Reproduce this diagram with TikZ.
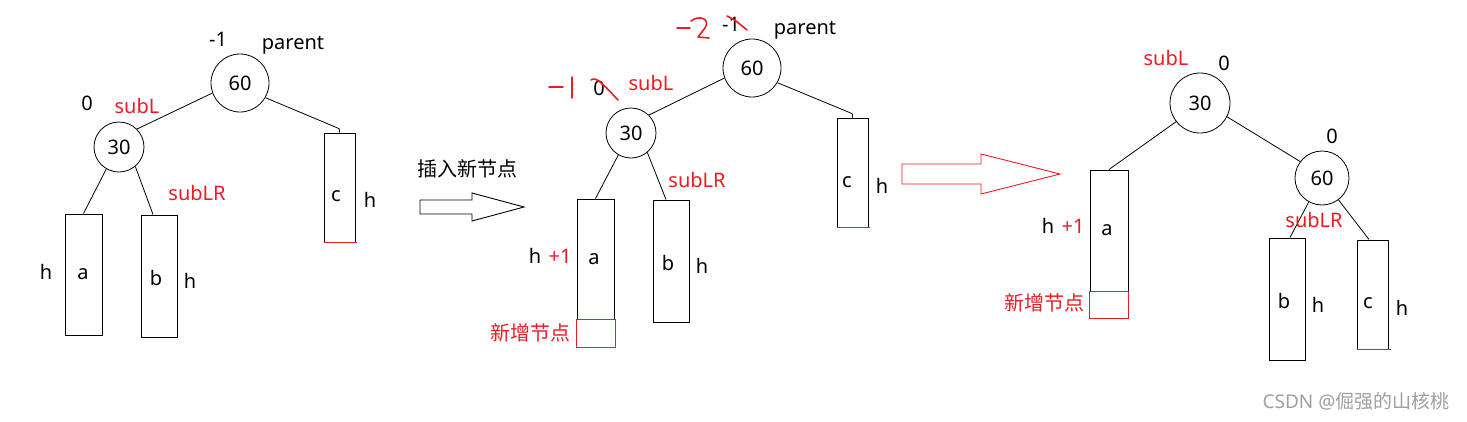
\documentclass[tikz,border=0pt]{standalone}
\usepackage{fontspec}
\setmainfont{Noto Sans}
\newfontfamily\cjk{Noto Sans CJK SC}
\definecolor{pred}{RGB}{237,28,36}
\definecolor{wm}{RGB}{160,160,160}
\begin{document}
\begin{tikzpicture}[x=1pt,y=-1pt,
  every node/.style={inner sep=0pt},
  lbl/.style={anchor=base, font=\fontsize{20}{23}\selectfont},
  rlbl/.style={lbl, text=pred},
  cn/.style={anchor=base, font=\fontsize{20}{23}\selectfont\cjk},
  rcn/.style={cn, text=pred},
  bnode/.style={circle, draw, line width=0.8pt, font=\fontsize{20}{23}\selectfont},
  box/.style={draw, line width=1pt, rectangle},
  newbox/.style={draw=pred, line width=1pt, rectangle},
  edge/.style={line width=0.8pt},
  redbot/.style={draw=pred, line width=1pt},
  hand/.style={draw=pred, line width=1.6pt, line cap=round, line join=round},
  hollow/.style={line width=0.9pt, line join=miter}]
\useasboundingbox (0,0) rectangle (1467,421);
\fill[white] (0,0) rectangle (1467,421);

% ---------------- left tree ----------------
\node[bnode, minimum size=58pt] (L60) at (240,83) {60};
\node[bnode, minimum size=50pt] (L30) at (119,147) {30};
\node[box, minimum width=37pt, minimum height=121pt] (La) at (83.5,274.5) {};
\node[box, minimum width=36pt, minimum height=122pt] (Lb) at (159,276) {};
\node[box, minimum width=31pt, minimum height=109pt] (Lc) at (339.5,187.5) {};
\draw[redbot] (Lc.south west) -- ([xshift=1pt]Lc.south east);
\node[lbl] (Lbf60) at (218,46) {-1};
\node[lbl] (Lpar) at (293,49) {parent};
\node[lbl] (Lbf30) at (87,110) {0};
\node[rlbl] (LsubL) at (137,113) {subL};
\node[rlbl] (LsubLR) at (197,200) {subLR};
\node[lbl] (Lct) at (336,201) {c};
\node[lbl] (Lch) at (370,207) {h};
\node[lbl] (Lah) at (46,279) {h};
\node[lbl] (Lat) at (83,279) {a};
\node[lbl] (Lbt) at (156,285) {b};
\node[lbl] (Lbh) at (190,288) {h};
\draw[edge] (L60.200) -- (L30.45);
\draw[edge] (L60.330) -- ([shift={(-3,-5)}]Lc.north) .. controls ([shift={(0,-4)}]Lc.north) .. (Lc.north);
\draw[edge] (L30.240) -- (La.north);
\draw[edge] (L30.310) -- ([xshift=-6pt]Lb.north);

% ---------------- first arrow ----------------
\node[cn] (ins) at (467,176) {插入新节点};
\draw[hollow] (420,200) -- (472,200) -- (472,193) -- (524,207) -- (472,221) -- (472,214) -- (420,214) -- cycle;

% ---------------- middle tree ----------------
\node[bnode, minimum size=58pt] (M60) at (752,68) {60};
\node[bnode, minimum size=50pt] (M30) at (631,133) {30};
\node[box, minimum width=37pt, minimum height=120pt] (Ma) at (595.5,259) {};
\node[box, minimum width=36pt, minimum height=122pt] (Mb) at (671,261) {};
\node[box, minimum width=31pt, minimum height=109pt] (Mc) at (852.5,172.5) {};
\draw[redbot] (Mc.south west) -- ([xshift=1pt]Mc.south east);
\node[newbox, minimum width=39pt, minimum height=28pt] (Mn) at (595.5,333) {};
\node[lbl] (Mbf60) at (731,31) {-1};
\node[lbl] (Mpar) at (805,34) {parent};
\node[lbl] (Mbf30) at (599,95) {0};
\node[rlbl] (MsubL) at (651,90) {subL};
\node[rlbl] (MsubLR) at (697,187) {subLR};
\node[lbl] (Mct) at (847,187) {c};
\node[lbl] (Mch) at (882,193) {h};
\node[lbl] (Mah) at (535,263) {h};
\node[rlbl] (Map) at (560,263) {+1};
\node[lbl] (Mat) at (594,264) {a};
\node[lbl] (Mbt) at (668,270) {b};
\node[lbl] (Mbh) at (702,273) {h};
\node[rcn] (Mnew) at (530,340) {新增节点};
\draw[edge] (M60.200) -- (M30.45);
\draw[edge] (M60.330) -- ([shift={(-3,-5)}]Mc.north) .. controls ([shift={(0,-4)}]Mc.north) .. (Mc.north);
\draw[edge] (M30.240) -- (Ma.north);
\draw[edge] (M30.310) -- ([xshift=-5pt]Mb.north);
% hand-written corrections
\draw[hand] (677,28) -- (690,28);
\draw[hand] (691,21) .. controls (698,15) and (711,18) .. (705,28) -- (698,37) -- (709,38);
\draw[hand] (727,16) .. controls (735,20) .. (747,30);
\draw[hand] (549,87) -- (563,87);
\draw[hand] (572,77) -- (572,98);
\draw[hand] (591,80) .. controls (596,76) and (603,84) .. (618,100);

% ---------------- second arrow ----------------
\draw[hollow, draw=pred] (902,164) -- (981,164) -- (981,154) -- (1060,174) -- (981,194) -- (981,184) -- (902,184) -- cycle;

% ---------------- right tree ----------------
\node[bnode, minimum size=60pt] (R30) at (1200,103) {30};
\node[bnode, minimum size=54pt] (R60) at (1322,178) {60};
\node[box, minimum width=38pt, minimum height=121pt] (Ra) at (1109,230.5) {};
\node[box, minimum width=36pt, minimum height=122pt] (Rb) at (1287.5,299) {};
\node[box, minimum width=31pt, minimum height=109pt] (Rc) at (1372.5,294.5) {};
\draw[redbot] (Rc.south west) -- ([xshift=2pt]Rc.south east);
\node[newbox, minimum width=39pt, minimum height=27pt] (Rn) at (1108.5,304.5) {};
\node[rlbl] (RsubL) at (1166,65) {subL};
\node[lbl] (Rbf30) at (1224,70) {0};
\node[lbl] (Rbf60) at (1332,143) {0};
\node[lbl] (Rah) at (1048,233) {h};
\node[rlbl] (Rap) at (1073,233) {+1};
\node[lbl] (Rat) at (1107,235) {a};
\node[rcn] (Rnew) at (1044,310) {新增节点};
\node[lbl] (Rbt) at (1284,308) {b};
\node[lbl] (Rbh) at (1318,312) {h};
\node[lbl] (Rct) at (1368,308) {c};
\node[lbl] (Rch) at (1402,315) {h};
\draw[edge] (R30.218) -- (Ra.north);
\draw[edge] (R30.333) -- (R60.143);
\draw[edge] (R60.241) -- ([xshift=2.5pt]Rb.north);
\draw[edge] (R60.307) -- ([xshift=-3.5pt]Rc.north);
\node[rlbl] (RsubLR) at (1314,227) {subLR};

% watermark
\node[anchor=base, text=wm, font=\fontsize{19}{21}\selectfont] (wmk) at (1356,408) {CSDN @{\cjk 倔强的山核桃}};
\end{tikzpicture}
\end{document}
